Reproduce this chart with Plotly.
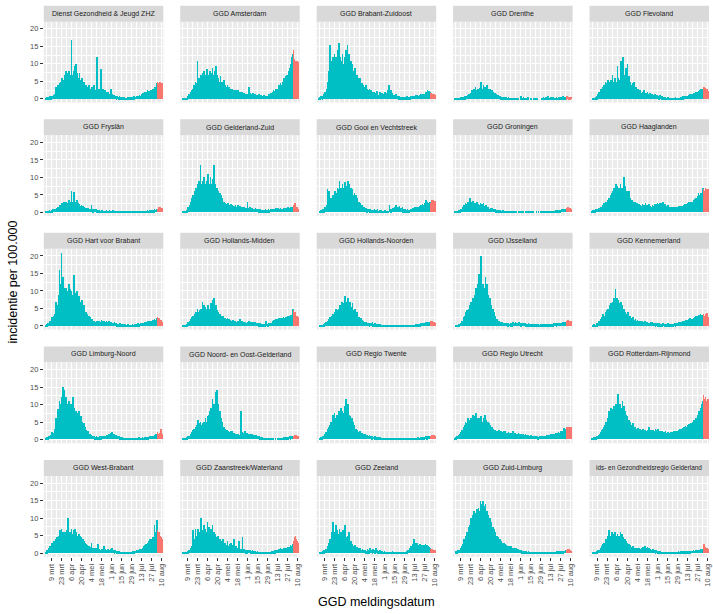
import pandas as pd
import plotly.graph_objects as go

# ---------------- data ----------------
START_DATE = "2020-03-01"
N_DAYS = 163
RED_FROM = "2020-08-04"

regions = [
    "Dienst Gezondheid & Jeugd ZHZ", "GGD Amsterdam", "GGD Brabant-Zuidoost", "GGD Drenthe", "GGD Flevoland",
    "GGD Fryslân", "GGD Gelderland-Zuid", "GGD Gooi en Vechtstreek", "GGD Groningen", "GGD Haaglanden",
    "GGD Hart voor Brabant", "GGD Hollands-Midden", "GGD Hollands-Noorden", "GGD IJsselland", "GGD Kennemerland",
    "GGD Limburg-Noord", "GGD Noord- en Oost-Gelderland", "GGD Regio Twente", "GGD Regio Utrecht", "GGD Rotterdam-Rijnmond",
    "GGD West-Brabant", "GGD Zaanstreek/Waterland", "GGD Zeeland", "GGD Zuid-Limburg", "ids- en Gezondheidsregio Gelderland",
]

tick_dates = ["2020-03-09", "2020-03-23", "2020-04-06", "2020-04-20", "2020-05-04", "2020-05-18",
              "2020-06-01", "2020-06-15", "2020-06-29", "2020-07-13", "2020-07-27", "2020-08-10"]
tick_text = ["9 mrt", "23 mrt", "6 apr", "20 apr", "4 mei", "18 mei",
             "1 jun", "15 jun", "29 jun", "13 jul", "27 jul", "10 aug"]
y_ticks = [0, 5, 10, 15, 20]
y_minor = [2.5, 7.5, 12.5, 17.5]

dienst_zhz = [
    0.3, 0.5, 0.4, 0.6, 0.5, 0.3, 0.8, 0.5, 0.7, 1, 0.8, 1.2, 0.9, 1.5,
    3.5, 1.5, 3, 4, 2.5, 3.5, 4.5, 5, 3.5, 6, 4, 5.5, 7, 4.5,
    8, 6, 7.5, 5, 8, 6.5, 7, 6, 17, 7, 5.5, 8, 6, 9.5,
    10, 6.5, 7.5, 5, 6, 7.5, 4.5, 5.5, 4, 6, 3.5, 5, 4.5, 3,
    4, 3, 3.5, 2.5, 4, 3, 2.5, 3, 2.5, 3.5, 2, 4, 2.5, 2,
    2.5, 2, 12, 2.5, 3, 2, 1.5, 8.5, 2, 1.5, 3, 2, 1.5, 2.5,
    2, 1.5, 1, 2, 1.5, 1, 1.5, 3, 1, 1.5, 0.8, 1.2, 1, 0.7,
    0.8, 0.5, 1, 0.6, 0.4, 0.8, 0.5, 0.3, 0.6, 0.4, 0.5, 0.2, 0.5, 0.3,
    0.4, 0.2, 0.5, 0.3, 0.6, 0.4, 0.3, 0.5, 0.3, 0.6, 0.4, 0.8, 0.5, 0.7,
    0.6, 0.8, 1, 0.7, 0.9, 1.2, 0.8, 1, 1.5, 1.2, 1.8, 1.4, 2, 1.6,
    2, 1.5, 2.5, 1.8, 2.2, 2, 1.5, 2.5, 2, 3, 2.2, 2.8, 2.5, 3.5,
    3, 4.5, 5, 3.5, 4.5, 4, 5, 3.5, 4.5,
]
amsterdam = [
    0, 0.2, 0, 0.3, 0.1, 0.4, 0.2, 0.3, 0.5, 1, 1.5, 0.8, 1.2, 2,
    2.5, 3, 2, 4, 3.5, 5, 3, 4.5, 11, 5, 6, 4, 5.5, 7,
    6, 7.5, 5, 8, 6.5, 7, 5.5, 8.5, 6, 7, 5, 8, 6.5, 7.5,
    6, 9, 7, 5.5, 8, 6, 9.5, 7, 5.5, 6, 4.5, 5, 6.5, 4,
    5, 3.5, 4, 5.5, 3, 4, 3.5, 3, 4, 2.5, 3.5, 3, 2, 3,
    2.5, 3, 2, 2.5, 1.5, 2, 2.5, 2, 1.5, 2.5, 1.8, 2, 1.5, 2,
    1.5, 2, 1.2, 1.8, 1.5, 1, 1.5, 1.2, 1.5, 1, 3.5, 1.2, 1.8, 1,
    1.5, 1, 1.8, 1.2, 1.5, 1, 1.2, 1, 1.3, 0.8, 1.5, 1, 0.7, 1.2,
    0.8, 1, 0.6, 1.2, 0.9, 0.7, 1, 1, 0.8, 1.2, 1.5, 1, 1.3, 1.8,
    1.5, 2, 2.5, 1.8, 2.2, 3, 2.5, 3, 2.5, 3.5, 4, 3, 4.5, 3.5,
    4, 5, 4.5, 6, 5, 4.5, 6.5, 7, 6, 8, 7.5, 9, 8, 10,
    12, 13, 14, 11.5, 11, 11, 10.5, 11, 10.5,
]
brabant_zuidoost = [
    0.2, 0.5, 0.3, 0.8, 0.6, 0.4, 1, 1.5, 0.8, 2, 1.2, 3, 5, 4,
    8, 6, 15.5, 9, 11, 7, 12, 10, 13, 9, 12, 8, 14, 11,
    16, 10, 12, 9, 11, 13, 8, 10, 12, 9, 14, 11, 15.5, 10,
    13, 9, 8, 11, 7, 10, 6, 8, 6, 9, 5.5, 7, 5, 6,
    5, 4, 6, 3.5, 4.5, 3, 4, 3.5, 2.5, 3, 4, 2, 3, 2.5,
    2, 3, 1.5, 2.5, 2, 1.5, 2, 1.5, 2, 1.2, 1.8, 2.2, 1.5, 1,
    1.2, 1.5, 2, 1, 1.8, 1.2, 1.5, 1, 1.5, 2, 1.2, 1.8, 1.5, 2.5,
    4, 2, 1.5, 2.5, 1.2, 1.8, 1, 1.2, 0.8, 1, 1.5, 0.7, 1, 0.8,
    0.5, 0.8, 0.4, 0.6, 0.5, 0.7, 0.4, 0.6, 0.4, 0.7, 0.5, 0.8, 0.6, 0.5,
    0.7, 0.5, 0.8, 0.6, 0.9, 0.7, 1, 0.8, 1, 0.7, 1.2, 0.9, 1.1, 0.8,
    1, 1.2, 0.9, 1.4, 1.1, 1.3, 1.5, 1.2, 1.6, 1.4, 2, 1.5, 2.5, 1.8,
    2.2, 2, 1.5, 1.8, 1.4, 1.6, 1.3, 1.5, 1.2,
]
drenthe = [
    0.3, 0.2, 0.3, 0.1, 0.3, 0.2, 0.4, 0.3, 0.2, 0.5, 0.3, 0.6, 0.4, 0.5,
    0.8, 0.5, 1, 0.7, 1.2, 0.9, 1.5, 1, 1.8, 1.2, 2.5, 1.5, 2, 3,
    2, 3.5, 2.5, 1.8, 3, 2.2, 2.8, 3.2, 2.5, 5, 3, 2.2, 4, 2.8,
    3.5, 2, 3, 4, 2.5, 1.8, 3, 2.2, 3, 1.5, 2.5, 1.8, 2, 1.2,
    1.8, 1, 1.5, 0.8, 1.2, 1, 0.6, 0.8, 1, 0.5, 0.7, 0.4, 0.6, 0.3,
    0.5, 0.3, 0.6, 0.2, 0.4, 0.5, 0.3, 0.2, 0, 0.3, 0, 0.2, 0.4, 0,
    0.3, 0, 0.2, 0.1, 0, 0.3, 0, 0, 0.2, 0.8, 0.3, 0, 0.6, 0.2,
    0.4, 0, 0.3, 0, 0.5, 0.2, 0, 0, 0, 0.2, 0, 0, 0.1, 0,
    0.2, 0, 0, 0.1, 0, 0, 0, 0, 0, 0.2, 0.3, 0, 0.5, 0.3,
    0.2, 0.6, 0.3, 0.4, 0.8, 0.5, 0.3, 0.4, 0.7, 0.5, 0.3, 0.6, 0.4, 0.2,
    0.3, 0, 0.5, 0.2, 0.4, 0.6, 0.3, 0.5, 0.3, 0.7, 0.4, 0.8, 0.6, 0.5,
    0.4, 0.7, 0.5, 0.8, 0.6, 0.4, 0.7, 0.5, 0.6,
]
flevoland = [
    0, 0.2, 0, 0.3, 0.2, 0.5, 0.3, 1, 0.5, 1.5, 2, 1.2, 2.5, 3,
    2.5, 3.5, 3, 4, 3.5, 5, 4, 4.5, 3.5, 5.5, 4, 5, 3.5, 5.5,
    4, 7, 5, 4.5, 6, 5, 3.5, 5, 9.5, 6, 4, 5.5, 7, 11,
    6, 4.5, 12, 5, 7, 4, 9, 5, 10, 4.5, 6.5, 3.5, 5, 4,
    3, 4.5, 2.5, 5, 3, 2, 3.5, 2.5, 2, 3, 1.5, 2.5, 2, 1.8,
    1.5, 2, 1.2, 2.5, 1.5, 1, 1.8, 1.2, 2, 1.5, 1, 1.8, 1.2, 1.5,
    1, 1.5, 0.8, 1.2, 1.6, 1, 0.8, 1.2, 0.8, 1, 0.5, 1.2, 0.6, 0.8,
    0.5, 0.8, 0.3, 0.6, 0.4, 0.7, 0.3, 0.4, 0, 0.5, 0.2, 0.3, 0, 0.4,
    0, 0.3, 0, 0.2, 0, 0.5, 0, 0.3, 0, 0, 0.2, 0, 0.4, 0.6,
    0.5, 0.8, 0.4, 0.7, 1, 0.6, 0.9, 1, 0.7, 1.2, 0.9, 1.4, 1.1, 1.5,
    1.2, 1.6, 1.3, 1.8, 1.5, 2, 1.7, 2, 1.6, 2.4, 1.8, 2.6, 2.2, 3,
    2.5, 3, 2.2, 3.5, 2.8, 3.2, 2.5, 3, 2.2,
]
fryslan = [
    0.2, 0.3, 0.2, 0.4, 0.3, 0.5, 0.3, 0.4, 0.6, 0.5, 0.8, 0.6, 1, 0.7,
    0.8, 1.2, 0.9, 1.5, 1, 2, 1.2, 2, 1.5, 2.5, 1.8, 3, 2.2, 2.8,
    2, 3, 2.5, 1.8, 3.5, 2.2, 3, 2.5, 6, 3, 2.2, 5.8, 2.5, 2,
    3, 1.8, 3.5, 2.5, 1.5, 2.2, 1.8, 1.5, 2, 1.2, 1.8, 1, 1.5, 1.2,
    1, 1.3, 0.8, 1.1, 0.7, 1, 0.8, 0.6, 2, 0.8, 0.5, 1, 0.7, 0.9,
    0.6, 0.8, 0.5, 0.7, 0.4, 0.6, 0.3, 0.4, 0.2, 0.5, 0.3, 0.2, 0.4, 0.2,
    0.3, 0.5, 0.2, 0.4, 0.3, 0.6, 0.2, 0.4, 0.2, 0.3, 0.5, 0.2, 0, 0.3,
    0.2, 0, 0.2, 0.3, 0, 0.1, 0.2, 0, 0.2, 0, 0.1, 0, 0.2, 0,
    0.1, 0, 0.2, 0, 0.1, 0, 0.2, 0, 0.2, 0.1, 0, 0.3, 0.1, 0.2,
    0.2, 0.1, 0.3, 0.2, 0.1, 0.3, 0.2, 0.3, 0.2, 0.4, 0.3, 0.2, 0.4, 0.3,
    0.4, 0.3, 0.5, 0.4, 0.3, 0.5, 0.4, 0.5, 0.6, 0.4, 0.7, 0.5, 0.8, 0.6,
    0.7, 0.9, 0.8, 1, 1.5, 1.2, 1.4, 1, 1.3,
]
gelderland_zuid = [
    0, 0.2, 0, 0.3, 0.2, 0.4, 0.3, 0.5, 0.8, 1.5, 1, 2, 2.5, 3,
    4, 3, 5, 4.5, 6, 5, 7, 6, 8, 5, 9, 7, 13.5, 8,
    6, 9, 7, 10, 6.5, 8, 7, 9, 6, 11, 8, 7, 10, 6.5,
    8, 9.5, 7, 13.5, 6, 8, 5.5, 7, 5, 6, 4.5, 5.5, 4, 5,
    3.5, 4, 2.5, 3, 2, 2.5, 1.8, 2.2, 1.8, 2.5, 1.5, 2, 1.7, 2.2,
    1.5, 2, 1.2, 1.8, 1.4, 2.1, 1.3, 1.6, 1.2, 2, 1.4, 1.8, 1, 1.5,
    1.2, 1.6, 1, 1.4, 1.2, 0.8, 1.3, 1, 3, 1.2, 0.8, 1.5, 1, 1.2,
    0.8, 1.2, 0.6, 1, 0.8, 1.3, 0.7, 1, 0.6, 0.9, 0.5, 0.8, 0.6, 0.4,
    0.5, 0.7, 0.3, 0.6, 0.4, 0.8, 0.5, 0.6, 0.4, 0.8, 0.5, 0.7, 0.9, 0.6,
    0.8, 0.6, 1, 0.7, 0.9, 0.6, 1.1, 0.9, 1.2, 0.8, 1, 0.7, 1.1, 0.9,
    1, 0.8, 1.2, 0.9, 1.3, 1, 0.8, 1.1, 1.4, 1, 1.2, 0.9, 1.5, 1.2,
    1.6, 1.4, 1.5, 2, 2.5, 1.8, 1.2, 1.4, 1,
]
gooi_vecht = [
    0, 0.3, 0, 0.5, 0.2, 0.8, 0.4, 1, 0.5, 1.5, 1.2, 2, 6.5, 2.5,
    6, 3, 2.5, 4, 3.5, 5, 4.5, 5, 4, 6, 5.5, 4.5, 7, 5,
    6.5, 9, 5, 7, 6, 8, 5.5, 7, 6, 8.5, 5, 7.5, 6, 9,
    6, 8, 5, 7, 4.5, 6.5, 5, 4, 5.5, 3.5, 5, 3, 4, 2.5,
    3, 2, 2.5, 1.5, 2, 1.2, 1.5, 1, 1.5, 0.8, 1.2, 0.5, 1, 0.6,
    0.8, 0.4, 1, 0.5, 0.7, 0.3, 0.6, 0.5, 1, 0.3, 0.6, 0.4, 0.8, 0.2,
    0.4, 0.6, 0, 0.5, 0.3, 0, 0.4, 0.2, 0, 0.5, 0, 0.3, 0, 0.2,
    0, 2, 0.8, 0.5, 1, 0.6, 1.2, 0.8, 1.5, 1, 2, 1.2, 0.8, 1.5,
    1, 1.8, 0.6, 1.2, 0.8, 1.4, 0.5, 0.8, 0.5, 1, 0.6, 0.4, 0.8, 0.6,
    0.5, 0.7, 0.9, 0.6, 1, 0.8, 1.2, 1, 1.4, 0.9, 1.2, 1.6, 1.1, 1.5,
    1.2, 1.8, 1.4, 2, 1.6, 2.2, 1.8, 2, 2.5, 1.8, 3.5, 2.2, 2.8, 2,
    2.5, 3, 2, 2.5, 3.5, 3, 3.5, 2.8, 3.2,
]
groningen = [
    0.1, 0.2, 0.3, 0.2, 0.4, 0.3, 0.5, 0.5, 0.8, 1, 0.7, 1.5, 1.2, 2,
    1.5, 2.5, 1.8, 2.2, 3, 1.8, 2.5, 4, 2, 2.8, 1.5, 3.2, 2, 2.5,
    1.8, 2.5, 2, 3, 1.5, 2.2, 1.8, 2, 2.5, 1.6, 2.2, 1.2, 2.6, 1.5,
    1.8, 1.2, 2, 1, 1.5, 1.2, 0.8, 1, 1.3, 0.8, 1.1, 0.6, 0.9, 0.7,
    0.8, 0.5, 0.7, 0.4, 0.6, 0.3, 0.5, 0.3, 0.5, 0.2, 0.4, 0.6, 0.2, 0.3,
    0.2, 0.4, 0, 0.3, 0.2, 0, 0.3, 0, 0.2, 0.3, 0, 0.2, 0, 0.4,
    0.2, 0, 0.3, 0, 0, 0.2, 0, 0.3, 0, 0.2, 0.4, 0, 0.2, 0,
    0, 0.3, 0, 0.2, 0, 0, 0.3, 0.2, 0, 0, 0.3, 0, 0.2, 0,
    0, 0, 0.2, 0, 0, 0.1, 0, 0, 0.2, 0, 0, 0.3, 0, 0.2,
    0, 0.1, 0.2, 0, 0.2, 0.3, 0.1, 0.2, 0.3, 0.2, 0.4, 0.3, 0.2, 0.4,
    0.3, 0.5, 0.4, 0.3, 0.5, 0.6, 0.4, 0.5, 0.7, 0.6, 0.8, 0.6, 0.9, 0.7,
    0.9, 1, 0.8, 1.2, 1.5, 1, 1.3, 1.1, 0.9,
]
haaglanden = [
    0.2, 0.3, 0.5, 0.4, 0.6, 0.5, 0.8, 0.7, 1, 0.8, 1.2, 1, 1.5, 1.2,
    1.5, 2, 1.8, 2.5, 2, 3, 2.5, 3, 2.5, 3.5, 4, 3, 5, 4,
    5.5, 4, 6, 7, 5, 6.5, 8, 6, 7.5, 5, 7, 6, 8, 6.5,
    7, 5.5, 6.5, 10, 6, 7.5, 5, 6, 4.5, 5, 6, 3.5, 4, 3,
    3.5, 2.5, 3, 2, 2.8, 2.2, 2.5, 2, 2.5, 1.8, 2.2, 1.6, 2, 1.5,
    1.8, 2.2, 1.5, 2, 1.7, 2.5, 1.6, 2, 1.5, 1.8, 2.2, 1.4, 1.9, 1.6,
    1.5, 2, 1.4, 1.8, 2.2, 1.6, 2.4, 2, 2.5, 1.8, 2.2, 2.6, 1.8, 2.2,
    2.5, 2, 2.8, 1.8, 2.4, 2, 1.6, 1.8, 1.4, 2, 1.5, 1.2, 1.6, 1.3,
    1.5, 1.2, 1.6, 1, 1.4, 1.2, 1.5, 1.3, 1.6, 1.2, 1.8, 1.4, 1.7, 1.5,
    1.8, 1.5, 2, 1.7, 2.2, 1.9, 2.4, 2.1, 2.5, 2.2, 2.8, 2.4, 3, 2.6,
    3, 2.7, 3.4, 3, 3.8, 3.2, 4, 3.5, 4.5, 5.5, 4, 5, 4.5, 5.5,
    5, 7, 6.5, 5.5, 6, 7, 6.5, 6, 6.5,
]
hart_brabant = [
    0.2, 0.3, 0.5, 0.8, 0.6, 1, 1.5, 1.2, 2, 2.5, 1.8, 3, 2.5, 3.5,
    7, 5, 4, 6, 9, 16, 8, 12, 21, 10, 14, 9, 11, 8,
    11, 7, 10, 8.5, 12, 9, 10.5, 8, 10, 7, 9, 14.5, 8, 7,
    9.5, 6, 10, 7, 8.5, 5.5, 7, 6, 4.5, 7.5, 5, 6, 4, 3.5,
    4, 3, 3.5, 2.5, 3, 2, 2.5, 1.8, 1.5, 2, 1.2, 1.6, 1.4, 1,
    1.2, 0.8, 1.4, 1, 1.5, 1.2, 0.9, 1.3, 1.8, 1, 1.4, 1.1, 1.6, 1.2,
    1, 1.4, 0.8, 1.2, 1.5, 0.9, 1.1, 0.9, 1.2, 0.7, 1, 0.8, 1.3, 0.6,
    0.8, 0.5, 0.7, 0.4, 0.6, 0.5, 0.8, 0.4, 0.6, 0.3, 0.5, 0.4, 0.2, 0.5,
    0.3, 0.4, 0.2, 0.5, 0.3, 0.4, 0.2, 0.4, 0.3, 0.5, 0.2, 0.4, 0.6, 0.3,
    0.5, 0.4, 0.6, 0.8, 0.5, 0.7, 0.6, 0.8, 0.6, 0.9, 0.7, 1, 0.8, 1.1,
    0.9, 1.2, 1, 1.4, 1.1, 1.5, 1.2, 1.4, 1.2, 1.6, 1.8, 1.5, 2, 1.7,
    1.9, 2.2, 2.5, 2.3, 2.4, 2, 1.6, 1.8, 1.2,
]
hollands_midden = [
    0, 0.2, 0.1, 0.3, 0.2, 0.4, 0.3, 0.5, 0.8, 1.2, 1, 1.5, 2, 1.8,
    2.5, 2, 3, 2.5, 3.5, 3, 4, 3.5, 5, 4, 3, 4.5, 3.5, 5,
    4, 7, 5, 6, 4.5, 5.5, 4, 5, 4, 6, 3.5, 5, 4.5, 6.5,
    5, 7.5, 4, 8, 5.5, 4, 6, 4.5, 3.5, 4, 3, 3.5, 2.5, 3,
    2.5, 2, 2.8, 1.8, 2.2, 1.6, 2, 1.8, 2.2, 1.5, 2, 1.4, 1.8, 1.2,
    1.5, 1.2, 1.8, 1, 1.4, 1.6, 1.1, 1.3, 1, 1.6, 1.2, 2, 1.1, 1.4,
    1.2, 1.5, 1, 1.3, 0.8, 1.2, 1, 0.9, 1.2, 0.7, 1.4, 1, 0.8, 1.1,
    1, 0.7, 1.2, 0.8, 1.1, 0.6, 0.9, 0.8, 0.6, 1, 0.5, 0.8, 0.6, 0.4,
    0.5, 0.7, 0.3, 0.6, 0.4, 0.5, 1.5, 0.6, 0.4, 0.5, 0.8, 0.6, 1, 0.7,
    1, 1.5, 1.2, 1.8, 1.4, 2, 1.6, 2, 1.8, 2.2, 1.6, 2.4, 2, 1.8,
    2.2, 1.9, 2.5, 2, 2.4, 2.1, 2.6, 2.3, 2.8, 2.4, 3, 2.6, 2.4, 3.2,
    2.8, 5, 4.5, 3.5, 4, 3.5, 3, 2.8, 2.5,
]
hollands_noorden = [
    0, 0.2, 0, 0.3, 0.2, 0.4, 0.2, 0.5, 0.8, 0.6, 1.2, 1, 1.5, 1.2,
    2, 1.5, 2.5, 2, 3, 2.5, 3.5, 3, 4, 3.5, 5, 4, 4.5, 3.5,
    5, 4, 6, 5, 7, 5.5, 6, 6.5, 5, 8.5, 6, 7, 5.5, 8,
    6, 5, 7, 4.5, 5.5, 6.5, 4, 4.5, 3.5, 5, 3, 4, 3.5, 2.5,
    2.5, 2, 1.5, 2.2, 1.8, 1.2, 1.5, 1, 1.3, 0.8, 1.1, 0.7, 1, 0.6,
    0.8, 0.5, 1, 0.6, 0.8, 1.1, 0.5, 0.7, 0.4, 0.9, 0.5, 0.6, 0.3, 0.5,
    0.4, 0.2, 0.5, 0.3, 0.4, 0.2, 0.3, 0.3, 0, 0.4, 0.2, 0.3, 0, 0.2,
    0.3, 0.2, 0, 0.3, 0.2, 0.4, 0.1, 0.2, 0.3, 0.1, 0.2, 0, 0.3, 0.2,
    0.1, 0.2, 0.3, 0, 0.2, 0.1, 0.2, 0.2, 0.1, 0.3, 0.2, 0.1, 0.3, 0.2,
    0.3, 0.2, 0.4, 0.3, 0.2, 0.4, 0.3, 0.4, 0.3, 0.5, 0.4, 0.6, 0.5, 0.4,
    0.6, 0.5, 0.8, 0.7, 0.9, 0.6, 0.8, 0.9, 1, 0.8, 1.1, 1, 1.3, 1.1,
    1.2, 1, 1.4, 1.2, 1.5, 1, 1.3, 1.1, 0.9,
]
ijsselland = [
    0, 0.2, 0.1, 0.4, 0.3, 0.5, 0.4, 0.6, 0.8, 1, 1.5, 1.2, 2, 2.5,
    3, 4, 2.5, 4.5, 3.5, 5, 4, 6, 5, 7, 5.5, 8, 6, 7,
    9, 7, 11, 8, 12, 9, 15, 10, 11, 20, 9, 12, 8, 10,
    11, 14, 7, 12, 6, 9, 5, 8, 4.5, 6, 4, 5, 3.5, 4,
    2.5, 3, 1.8, 2, 1.5, 1.2, 1.6, 1, 1.3, 0.8, 1.2, 0.7, 1, 0.9,
    0.8, 1, 0.6, 0.9, 0.5, 0.8, 0.6, 0.7, 0.4, 0.8, 0.5, 1.2, 0.6, 0.8,
    0.9, 1.3, 0.7, 1, 0.6, 0.8, 1.1, 0.7, 0.9, 0.5, 0.8, 0.6, 1, 0.7,
    0.8, 0.5, 0.7, 0.4, 0.6, 0.9, 0.5, 0.6, 0.4, 0.7, 0.5, 0.3, 0.6, 0.4,
    0.5, 0.3, 0.6, 0.4, 0.5, 0.3, 0.4, 0.3, 0.5, 0.4, 0.6, 0.3, 0.5, 0.4,
    0.5, 0.4, 0.6, 0.5, 0.7, 0.4, 0.6, 0.5, 0.7, 0.6, 0.4, 0.7, 0.5, 0.8,
    0.6, 0.8, 0.5, 0.7, 0.9, 0.6, 0.8, 0.9, 0.7, 1, 0.8, 1.1, 0.9, 1.2,
    1, 1.3, 1.5, 1.2, 1.8, 1.4, 1.6, 1.3, 1.5,
]
kennemerland = [
    0, 0.3, 0, 0.5, 0.2, 0.4, 0.3, 0.8, 0.5, 1, 1.5, 1.2, 2, 1.5,
    2.5, 2, 3.5, 2.5, 3, 4, 3.5, 4.5, 3.5, 5, 4, 6, 5, 6.5,
    5.5, 7, 6, 8, 6.5, 10.5, 7, 8, 6, 7.5, 5, 6.5, 5.5, 7,
    4.5, 6, 3.5, 5, 3, 4, 2.5, 3.5, 2.5, 4, 2, 3, 2.5, 1.8,
    2.2, 1.5, 2.5, 1.8, 1.2, 2, 1.5, 1.2, 1.8, 1, 1.5, 0.8, 1.3, 1.6,
    1, 1.4, 0.8, 1.2, 1.5, 0.9, 1.1, 0.8, 1.2, 0.6, 1, 0.7, 1.3, 0.9,
    1.1, 0.7, 1, 0.6, 0.9, 0.5, 0.8, 0.6, 0.9, 0.5, 0.8, 0.4, 0.7, 0.5,
    0.7, 0.5, 0.9, 0.6, 0.4, 0.7, 0.5, 0.6, 0.4, 0.8, 0.5, 0.7, 0.4, 0.6,
    0.5, 0.7, 0.4, 0.6, 0.8, 0.5, 0.7, 0.8, 1, 0.7, 1.2, 0.9, 1.1, 1.3,
    1, 1.4, 1.2, 1.6, 1.3, 1.8, 1.5, 1.7, 1.4, 2, 1.6, 2.2, 1.8, 1.5,
    2, 1.7, 2.4, 1.9, 2.6, 2.1, 2.8, 2.4, 3, 2.6, 3.2, 2.8, 3.5, 3,
    3.2, 2.8, 3.5, 2.6, 3, 3.4, 2.8, 3.8, 2.6,
]
limburg_noord = [
    0.2, 0.3, 0.5, 0.4, 0.8, 1, 0.6, 1.2, 1.5, 2, 1.8, 1.5, 2.5, 3,
    6, 5.5, 4, 8.5, 6, 11, 7, 10, 9, 12, 15, 8, 14, 10,
    12, 9, 10, 8, 11, 9.5, 10, 8.5, 10, 7, 12, 8, 9, 6.5,
    8, 6, 7.5, 5, 8, 6, 5.5, 6.5, 4, 5, 3.5, 4.5, 3, 3.5,
    2.5, 2, 1.8, 2.2, 1.5, 1.2, 1.4, 1, 1.2, 0.8, 0.6, 1, 0.7, 0.5,
    0.6, 0.8, 0.5, 0.7, 0.4, 0.6, 0.8, 0.5, 0.7, 0.9, 0.6, 1, 0.8, 0.7,
    1, 0.8, 1.2, 0.9, 1.4, 1.1, 1.5, 1.8, 1.4, 2, 1.6, 1.2, 1.5, 1,
    1.2, 0.8, 1, 0.6, 0.9, 0.7, 0.5, 0.6, 0.4, 0.5, 0.3, 0.4, 0.2, 0.3,
    0.2, 0, 0.3, 0, 0.2, 0, 0.1, 0, 0.2, 0, 0.1, 0, 0.3, 0.2,
    0.3, 0.2, 0.4, 0.3, 0.5, 0.4, 0.3, 0.4, 0.3, 0.5, 0.4, 0.3, 0.5, 0.4,
    0.5, 0.4, 0.6, 0.5, 0.7, 0.6, 0.8, 0.7, 0.9, 0.8, 1, 0.9, 1.2, 1,
    1.5, 1.2, 2, 1.5, 1.2, 1.8, 1.4, 2.8, 1.6,
]
noord_oost_gelderland = [
    0, 0.1, 0.2, 0.1, 0.3, 0.2, 0.4, 0.5, 0.3, 0.8, 1, 0.6, 1.2, 1.5,
    2, 1.5, 2.5, 3, 2, 3.5, 3, 4, 3, 5.5, 4.5, 3.5, 5, 4,
    3.5, 4.5, 3, 5, 4, 6, 4.5, 5, 6.5, 4, 7, 8, 6, 9,
    7, 11.5, 8, 10, 6.5, 13.5, 9, 14, 7, 10, 5.5, 8, 4.5, 6,
    4, 5, 3, 3.5, 2.5, 3, 2, 2.5, 1.8, 2.2, 1.5, 2, 1.6, 2.4,
    1.8, 2.2, 1.4, 1.8, 1.2, 1.6, 1.3, 1.5, 1.1, 1.4, 1, 1.2, 1.5, 8,
    2, 1.2, 1.8, 1, 2.2, 1.5, 1.8, 1.4, 1.8, 1.2, 1.6, 1, 1.4, 1.2,
    1.6, 1, 1.3, 0.8, 1.2, 0.9, 1.1, 0.8, 1, 0.6, 0.9, 0.5, 0.7, 0.4,
    0.5, 0.3, 0.4, 0.2, 0.3, 0, 0.2, 0, 0.1, 0, 0, 0.2, 0, 0,
    0.1, 0, 0.2, 0, 0, 0.1, 0, 0, 0.2, 0.1, 0, 0.3, 0.2, 0.3,
    0.4, 0.3, 0.5, 0.4, 0.6, 0.5, 0.4, 0.6, 0.5, 0.7, 0.6, 0.8, 0.5, 0.7,
    0.8, 0.6, 1, 0.8, 1.2, 0.9, 1.1, 0.9, 1,
]
regio_twente = [
    0, 0.2, 0.3, 0.5, 0.4, 0.6, 0.8, 1, 1.5, 1.2, 2, 1.8, 2.5, 3,
    3.5, 2.5, 4, 5, 3.5, 6, 7, 5, 7.5, 6, 4.5, 7, 5.5, 6.5,
    8, 6, 7, 9, 6.5, 8, 7.5, 6, 9.5, 7, 11.5, 8, 6, 10,
    7, 5, 6.5, 4.5, 6, 4, 5, 3.5, 4, 2.5, 3, 2, 2.5, 1.8,
    2, 1.5, 2.2, 1.3, 1.8, 1.2, 1.5, 1.2, 1, 1.4, 0.8, 1.1, 0.7, 1,
    0.8, 1.1, 0.6, 0.9, 0.5, 0.8, 0.6, 0.7, 0.5, 0.8, 0.4, 0.6, 0.3, 0.5,
    0.4, 0.3, 0.5, 0.2, 0.4, 0.3, 0.2, 0.3, 0, 0.2, 0.3, 0, 0.2, 0.1,
    0.2, 0.3, 0, 0.2, 0.3, 0, 0.2, 0.3, 0.2, 0.1, 0.3, 0.2, 0, 0.2,
    0.2, 0.3, 0.2, 0, 0.2, 0.3, 0.1, 0.2, 0.1, 0.3, 0.2, 0, 0.2, 0.3,
    0.2, 0.3, 0.2, 0.4, 0.3, 0.2, 0.3, 0.3, 0.4, 0.2, 0.3, 0.4, 0.3, 0.5,
    0.4, 0.3, 0.5, 0.4, 0.6, 0.5, 0.4, 0.5, 0.7, 0.6, 0.8, 0.5, 0.7, 0.9,
    0.7, 0.9, 1, 0.8, 1.2, 1, 0.9, 1.1, 0.8,
]
regio_utrecht = [
    0.2, 0.5, 0.3, 0.8, 0.6, 1, 1.2, 1.5, 1.2, 2, 2.5, 1.8, 3, 3.5,
    4, 5, 3.5, 4.5, 6, 4, 5, 5.5, 4.5, 6, 5, 7, 4.5, 6,
    6.5, 5, 7.5, 5.5, 6, 4.5, 5.5, 6, 4.5, 6.5, 5, 4, 6, 5,
    7, 4.5, 5.5, 3.5, 5, 4, 4.5, 3.5, 4, 2.8, 3.5, 2.5, 3, 2.2,
    2.6, 2, 2.4, 1.8, 2.2, 1.6, 2.5, 2, 1.8, 2.3, 1.5, 2, 1.7, 2.4,
    1.8, 2.2, 1.5, 1.9, 1.4, 2.1, 1.6, 1.7, 1.3, 1.9, 1.5, 2.2, 1.4, 1.8,
    1.5, 1.9, 1.2, 1.6, 1.3, 1.8, 1.1, 1.4, 1.1, 1.6, 1.2, 1.5, 1, 1.3,
    1.1, 1.4, 0.9, 1.2, 1, 1.3, 0.8, 1, 0.8, 1.1, 0.7, 0.9, 0.6, 0.8,
    0.7, 0.9, 0.6, 0.8, 0.5, 0.7, 0.6, 0.8, 0.6, 0.9, 0.7, 1, 0.8, 0.9,
    1, 0.8, 1.1, 0.9, 1.2, 1, 1.3, 1.1, 1.4, 1.2, 1.5, 1.3, 1.6, 1.4,
    1.5, 1.7, 1.4, 1.8, 1.6, 2, 1.7, 1.9, 2.2, 1.8, 2.4, 2.1, 2.8, 3.2,
    2.6, 3, 3.4, 3.2, 3.5, 3.3, 3.6, 3.4, 3.5,
]
rotterdam_rijnmond = [
    0.1, 0.3, 0.2, 0.5, 0.4, 0.6, 0.5, 0.8, 1, 0.7, 1.2, 1.5, 2, 1.8,
    2.5, 3, 2, 3.5, 4, 3, 5, 4, 6, 5, 8, 6.5, 7, 9,
    6, 8.5, 7, 9.5, 8, 6.5, 10, 7.5, 9, 13, 8, 10, 7, 9,
    8, 11, 7.5, 9.5, 6, 8, 7, 5, 6.5, 4.5, 5.5, 4, 5, 3.5,
    4, 3, 4.5, 2.5, 3.5, 3, 2.5, 3, 2.5, 3.2, 2, 2.8, 2.2, 2.6,
    2.4, 2, 2.8, 1.8, 2.5, 2.1, 2.3, 2, 2.5, 1.8, 3.5, 2.2, 2, 2.6,
    2.4, 2, 2.7, 1.9, 2.3, 3, 2.1, 2.5, 2.2, 2.8, 2, 2.4, 1.8, 2.2,
    2, 2.4, 1.7, 2.1, 1.8, 2.3, 1.6, 1.9, 1.5, 2, 1.6, 1.8, 1.4, 2.1,
    1.7, 2, 1.5, 2.2, 1.8, 2.4, 2, 2.3, 2, 2.6, 2.2, 2.8, 2.4, 3,
    2.7, 3.2, 2.9, 3.5, 3, 3.8, 3.3, 3.6, 4, 3.5, 4.3, 3.9, 4.6, 4.2,
    4.5, 5, 4.6, 5.5, 5, 6, 5.4, 6, 7, 6.5, 8, 7.5, 9, 8.5,
    10, 11, 12.5, 10.5, 11.5, 12, 11, 10.5, 11.5,
]
west_brabant = [
    0.3, 0.8, 0.5, 1, 1.5, 1.2, 2, 1.8, 2.5, 3, 2.2, 3.5, 2.8, 3,
    4, 3, 4.5, 3.5, 5, 4, 6.5, 5, 7, 4.5, 6, 5.5, 4, 6,
    5, 6.5, 4, 10, 6, 5, 4.5, 6, 7, 5.5, 4, 6.5, 5, 7,
    4.5, 6, 5, 3.5, 5.5, 4, 5, 3.5, 4.5, 3, 4, 2.5, 3.5, 2.8,
    2.5, 2, 2.2, 1.8, 2, 1.5, 1.7, 1.4, 3, 1.2, 1.5, 1, 1.3, 1.6,
    1.2, 1, 1.4, 2.5, 1.1, 1.3, 0.9, 1, 1.2, 0.8, 1.1, 2, 0.9, 1.2,
    0.8, 1, 0.7, 1.3, 0.9, 0.6, 1, 1.1, 0.8, 1.4, 0.7, 1, 0.5, 0.8,
    0.6, 0.4, 0.7, 0.3, 0.5, 0.2, 0.4, 0.3, 0.2, 0.4, 0, 0.3, 0.2, 0,
    0.2, 0.3, 0.1, 0.3, 0.2, 0.4, 0.3, 0.4, 0.3, 0.5, 0.4, 0.6, 0.5, 0.7,
    0.6, 0.8, 0.7, 1, 0.8, 1.2, 1, 1.3, 1.1, 1.6, 1.4, 2, 1.7, 2.2,
    2.5, 2, 3, 2.6, 3.5, 3, 4, 3.5, 4, 3.2, 4.5, 3.8, 8, 5,
    6, 9.5, 6.5, 6, 5.5, 6, 5, 4.5, 4,
]
zaanstreek_waterland = [
    0, 0, 0.2, 0, 0.3, 0.1, 0.4, 0.3, 0.6, 0.5, 0.8, 1, 0.7, 1.5,
    2, 3, 6.5, 4, 3, 7, 4.5, 5, 4, 7, 5.5, 6, 3.5, 10,
    5, 6.5, 4, 8, 5.5, 7, 4.5, 6, 9, 5, 7.5, 6, 4.5, 7,
    6.5, 8, 5, 6, 4, 5.5, 3.5, 4.5, 3, 5, 2.5, 4, 3, 2.5,
    3.5, 2, 4, 2.5, 3, 1.8, 2.2, 1.5, 3.5, 2, 1.2, 2.5, 1.5, 3,
    1.8, 1.2, 2.2, 4, 1.5, 1, 2, 1.2, 0.8, 1.5, 3.5, 1, 0.8, 1.2,
    1, 4.5, 0.8, 1.2, 0.6, 1, 0.5, 0.8, 0.5, 1, 0.6, 0.8, 0.4, 0.7,
    0.5, 0.8, 0.4, 0.6, 0.3, 0.5, 0.4, 0.3, 0.5, 0.2, 0.4, 0, 0.3, 0.2,
    0, 0.2, 0, 0.3, 0.1, 0, 0.2, 0.1, 0.3, 0, 0.2, 0.4, 0.1, 0.3,
    0.5, 0.3, 0.6, 0.4, 0.8, 0.5, 0.7, 0.8, 1, 0.6, 1.2, 0.9, 1.4, 1,
    1.2, 0.9, 1.4, 1.1, 1.6, 1.2, 1.5, 1.3, 1.7, 1.4, 1.9, 1.5, 2.2, 1.8,
    2, 2.5, 3, 3.5, 4.5, 5, 4, 3.5, 3,
]
zeeland = [
    0, 0.2, 0, 0.3, 0.4, 0.2, 0.5, 0.8, 0.5, 1, 1.2, 1, 1.5, 2,
    3, 2.5, 4, 3.5, 6, 4.5, 9, 5, 6, 4, 8, 5, 6.5, 4.5,
    5.5, 7, 4, 6, 5, 3.5, 6.5, 4, 5, 8, 3.5, 4.5, 3, 5,
    6, 3, 2.5, 3.5, 2, 2.5, 1.8, 2, 1.5, 2.2, 1.2, 1.8, 1, 1.5,
    1.2, 0.8, 1.4, 1, 0.7, 1.2, 0.8, 1, 0.6, 0.8, 0.5, 0.7, 1.2, 0.5,
    0.8, 0.4, 1.5, 0.6, 0.9, 0.5, 1.2, 0.7, 1, 0.5, 1.4, 0.6, 0.9, 0.4,
    0.6, 0.3, 0.8, 0.4, 0.5, 0.2, 0.4, 0.3, 0.5, 0.2, 0, 0.4, 0.3, 0.2,
    0.4, 0, 0.3, 0.2, 0, 0.5, 0.2, 0, 0.3, 0, 0.2, 0, 0.1, 0,
    0.2, 0, 0.1, 0, 0.2, 0, 0.3, 0, 0.2, 0.4, 0.3, 0.6, 0.5, 0.8,
    1, 1.5, 1.2, 2, 1.6, 2.5, 1.8, 4, 2.5, 3, 2, 2.8, 1.8, 2.4,
    2, 2.6, 1.8, 2.2, 1.6, 2.4, 1.9, 2.2, 1.7, 2.5, 1.9, 2.3, 1.6, 2,
    1.8, 1.4, 1, 1.2, 0.8, 1.1, 0.9, 1, 0.8,
]
zuid_limburg = [
    0, 0.3, 0.5, 0.4, 0.8, 1, 0.6, 1, 1.5, 1.2, 2, 2.5, 3, 4,
    3.5, 5, 4, 6, 5.5, 7.5, 6, 8, 7, 10, 9, 11, 8.5, 12,
    10, 11.5, 9, 12.5, 10, 13, 11, 12, 15, 11, 14, 15, 12, 13.5,
    11, 14, 10, 12, 9.5, 11, 8.5, 10, 8, 9, 6.5, 7.5, 6, 7,
    5.5, 6, 4.5, 5, 4, 4.5, 3.5, 4, 3, 3.5, 2.5, 3, 2.2, 2.8,
    2.5, 2, 2.3, 1.8, 2.1, 1.6, 2, 1.8, 1.5, 2, 1.3, 1.6, 1.2, 1.4,
    1.2, 1, 1.4, 0.9, 1.1, 0.8, 1, 0.8, 0.6, 0.9, 0.5, 0.7, 0.4, 0.6,
    0.5, 0.3, 0.6, 0.4, 0.3, 0.5, 0.2, 0.3, 0.2, 0.4, 0.1, 0.3, 0.2, 0.1,
    0.2, 0.1, 0.3, 0, 0.2, 0.1, 0.2, 0.1, 0.2, 0, 0.2, 0.1, 0.3, 0.2,
    0.2, 0.3, 0.1, 0.2, 0.3, 0.2, 0.4, 0.3, 0.2, 0.4, 0.3, 0.2, 0.4, 0.3,
    0.3, 0.4, 0.3, 0.5, 0.4, 0.3, 0.5, 0.4, 0.5, 0.6, 0.4, 0.6, 0.5, 0.7,
    0.6, 0.8, 0.7, 1, 1.2, 0.9, 1.1, 0.8, 0.7,
]
gelderland_midden = [
    0, 0.1, 0, 0.2, 0.1, 0.3, 0.2, 0.5, 0.3, 0.8, 0.6, 1, 1.5, 1.2,
    2, 1.5, 2.5, 3, 2, 3.5, 4, 3, 5, 4, 6.5, 3.5, 5, 4.5,
    6, 4, 5.5, 3.5, 6, 4.5, 5, 4, 5.5, 3.5, 5, 4.5, 6, 4,
    5.5, 3.5, 4.5, 3, 4, 2.5, 3.5, 2.5, 3, 2, 2.5, 1.8, 2.2, 1.5,
    1.8, 1.3, 2, 1.2, 1.6, 1, 1.4, 1.2, 1.6, 1, 1.4, 0.9, 1.3, 1.1,
    1.5, 1, 1.8, 1.2, 2, 1.3, 1.6, 1.2, 1.8, 1, 1.5, 0.8, 1.2, 0.9,
    1, 0.7, 1.1, 0.6, 0.9, 0.5, 0.8, 0.6, 0.4, 0.7, 0.3, 0.5, 0.4, 0.2,
    0.3, 0.2, 0.4, 0.1, 0.3, 0, 0.2, 0.1, 0.3, 0, 0.2, 0.1, 0, 0.2,
    0.3, 0.2, 0.4, 0.3, 0.2, 0.4, 0.3, 0.4, 0.3, 0.5, 0.4, 0.3, 0.5, 0.4,
    0.5, 0.4, 0.6, 0.5, 0.4, 0.6, 0.5, 0.6, 0.5, 0.7, 0.6, 0.5, 0.7, 0.6,
    0.7, 0.6, 0.8, 0.7, 0.6, 0.8, 0.7, 0.8, 0.7, 0.9, 0.8, 1, 0.9, 1.1,
    1, 1.2, 1.5, 2.5, 1.8, 1.2, 1.4, 1.6, 1.2,
]

series = [
    dienst_zhz, amsterdam, brabant_zuidoost, drenthe, flevoland,
    fryslan, gelderland_zuid, gooi_vecht, groningen, haaglanden,
    hart_brabant, hollands_midden, hollands_noorden, ijsselland, kennemerland,
    limburg_noord, noord_oost_gelderland, regio_twente, regio_utrecht, rotterdam_rijnmond,
    west_brabant, zaanstreek_waterland, zeeland, zuid_limburg, gelderland_midden,
]

# ---------------- styling / layout ----------------
W, H = 713, 614
TEAL = "#00BFC4"
RED = "#F8766D"
FONT = "Liberation Sans, Arial, sans-serif"
COL_X = [44, 181, 318, 455, 592]
PANEL_W = 120
ZERO_Y0 = 99.0
ROW_STEP = 113.75
PANEL_H = 81.0
BELOW_ZERO = 3.7
STRIP_H = 16.0
X_RANGE = ["2020-02-27 12:00", "2020-08-12 12:00"]
Y_RANGE = [-1.05, 22.05]

dates = pd.date_range(START_DATE, periods=N_DAYS, freq="D")
red_from = pd.Timestamp(RED_FROM)
colors = [RED if d >= red_from else TEAL for d in dates]
minor_x = [(pd.Timestamp(t) - pd.Timedelta(days=7)).strftime("%Y-%m-%d") for t in tick_dates]

fig = go.Figure()
shapes = []
annotations = []

for i, (name, vals) in enumerate(zip(regions, series)):
    assert len(vals) == N_DAYS, (name, len(vals))
    r, c = divmod(i, 5)
    sfx = "" if i == 0 else str(i + 1)
    fig.add_trace(go.Bar(
        x=dates, y=vals, marker=dict(color=colors, line=dict(width=0)),
        xaxis="x" + sfx, yaxis="y" + sfx, showlegend=False, hoverinfo="x+y",
    ))
    x0 = COL_X[c]
    x1 = x0 + PANEL_W
    zero = ZERO_Y0 + ROW_STEP * r
    bottom = zero + BELOW_ZERO
    top = bottom - PANEL_H
    bottom_row = r == 4
    left_col = c == 0
    fig.update_layout(**{
        "xaxis" + sfx: dict(
            domain=[x0 / W, x1 / W], anchor="y" + sfx, type="date", range=X_RANGE,
            tickmode="array", tickvals=tick_dates, ticktext=tick_text,
            showticklabels=bottom_row, ticks="outside" if bottom_row else "",
            ticklen=3, tickwidth=1, tickcolor="#333333", tickangle=-90,
            tickfont=dict(family=FONT, size=7.5, color="#4D4D4D"),
            showgrid=True, gridcolor="white", gridwidth=1.1, zeroline=False, showline=False,
            minor=dict(tickvals=minor_x, showgrid=True, gridcolor="white", gridwidth=0.5, ticks=""),
            fixedrange=True,
        ),
        "yaxis" + sfx: dict(
            domain=[1 - bottom / H, 1 - top / H], anchor="x" + sfx, range=Y_RANGE,
            tickmode="array", tickvals=y_ticks,
            showticklabels=left_col, ticks="outside" if left_col else "",
            ticklen=3, tickwidth=1, tickcolor="#333333",
            tickfont=dict(family=FONT, size=7.5, color="#4D4D4D"),
            showgrid=True, gridcolor="white", gridwidth=1.1, zeroline=False, showline=False,
            minor=dict(tickvals=y_minor, showgrid=True, gridcolor="white", gridwidth=0.5, ticks=""),
            fixedrange=True,
        ),
    })
    shapes.append(dict(type="rect", xref="paper", yref="paper",
                       x0=x0 / W, x1=x1 / W, y0=1 - top / H, y1=1 - (top - STRIP_H) / H,
                       fillcolor="#D9D9D9", line=dict(width=0), layer="below"))
    strip_size = 7 if len(name) < 33 else 6.4
    annotations.append(dict(text=name, xref="paper", yref="paper",
                            x=(x0 + x1) / 2 / W, y=1 - (top - STRIP_H / 2) / H,
                            showarrow=False, xanchor="center", yanchor="middle",
                            font=dict(family=FONT, size=strip_size, color="#1A1A1A")))

panels_left = COL_X[0]
panels_right = COL_X[-1] + PANEL_W
annotations.append(dict(text="GGD meldingsdatum", xref="paper", yref="paper",
                        x=(panels_left + panels_right) / 2 / W, y=1 - 603 / H,
                        showarrow=False, xanchor="center", yanchor="middle",
                        font=dict(family=FONT, size=12.5, color="#000000")))
annotations.append(dict(text="incidentie per 100.000", xref="paper", yref="paper",
                        x=13 / W, y=1 - 282 / H, textangle=-90,
                        showarrow=False, xanchor="center", yanchor="middle",
                        font=dict(family=FONT, size=12.5, color="#000000")))

fig.update_layout(
    width=W, height=H, autosize=False,
    margin=dict(l=0, r=0, t=0, b=0),
    paper_bgcolor="white", plot_bgcolor="#EBEBEB",
    bargap=0, barmode="overlay",
    shapes=shapes, annotations=annotations,
    font=dict(family=FONT),
    showlegend=False,
)

fig.write_html(
    "out.html",
    include_plotlyjs=True,
    config={"displayModeBar": False},
    post_script="document.body.style.margin='0';document.body.style.padding='0';document.body.style.overflow='hidden';",
)
